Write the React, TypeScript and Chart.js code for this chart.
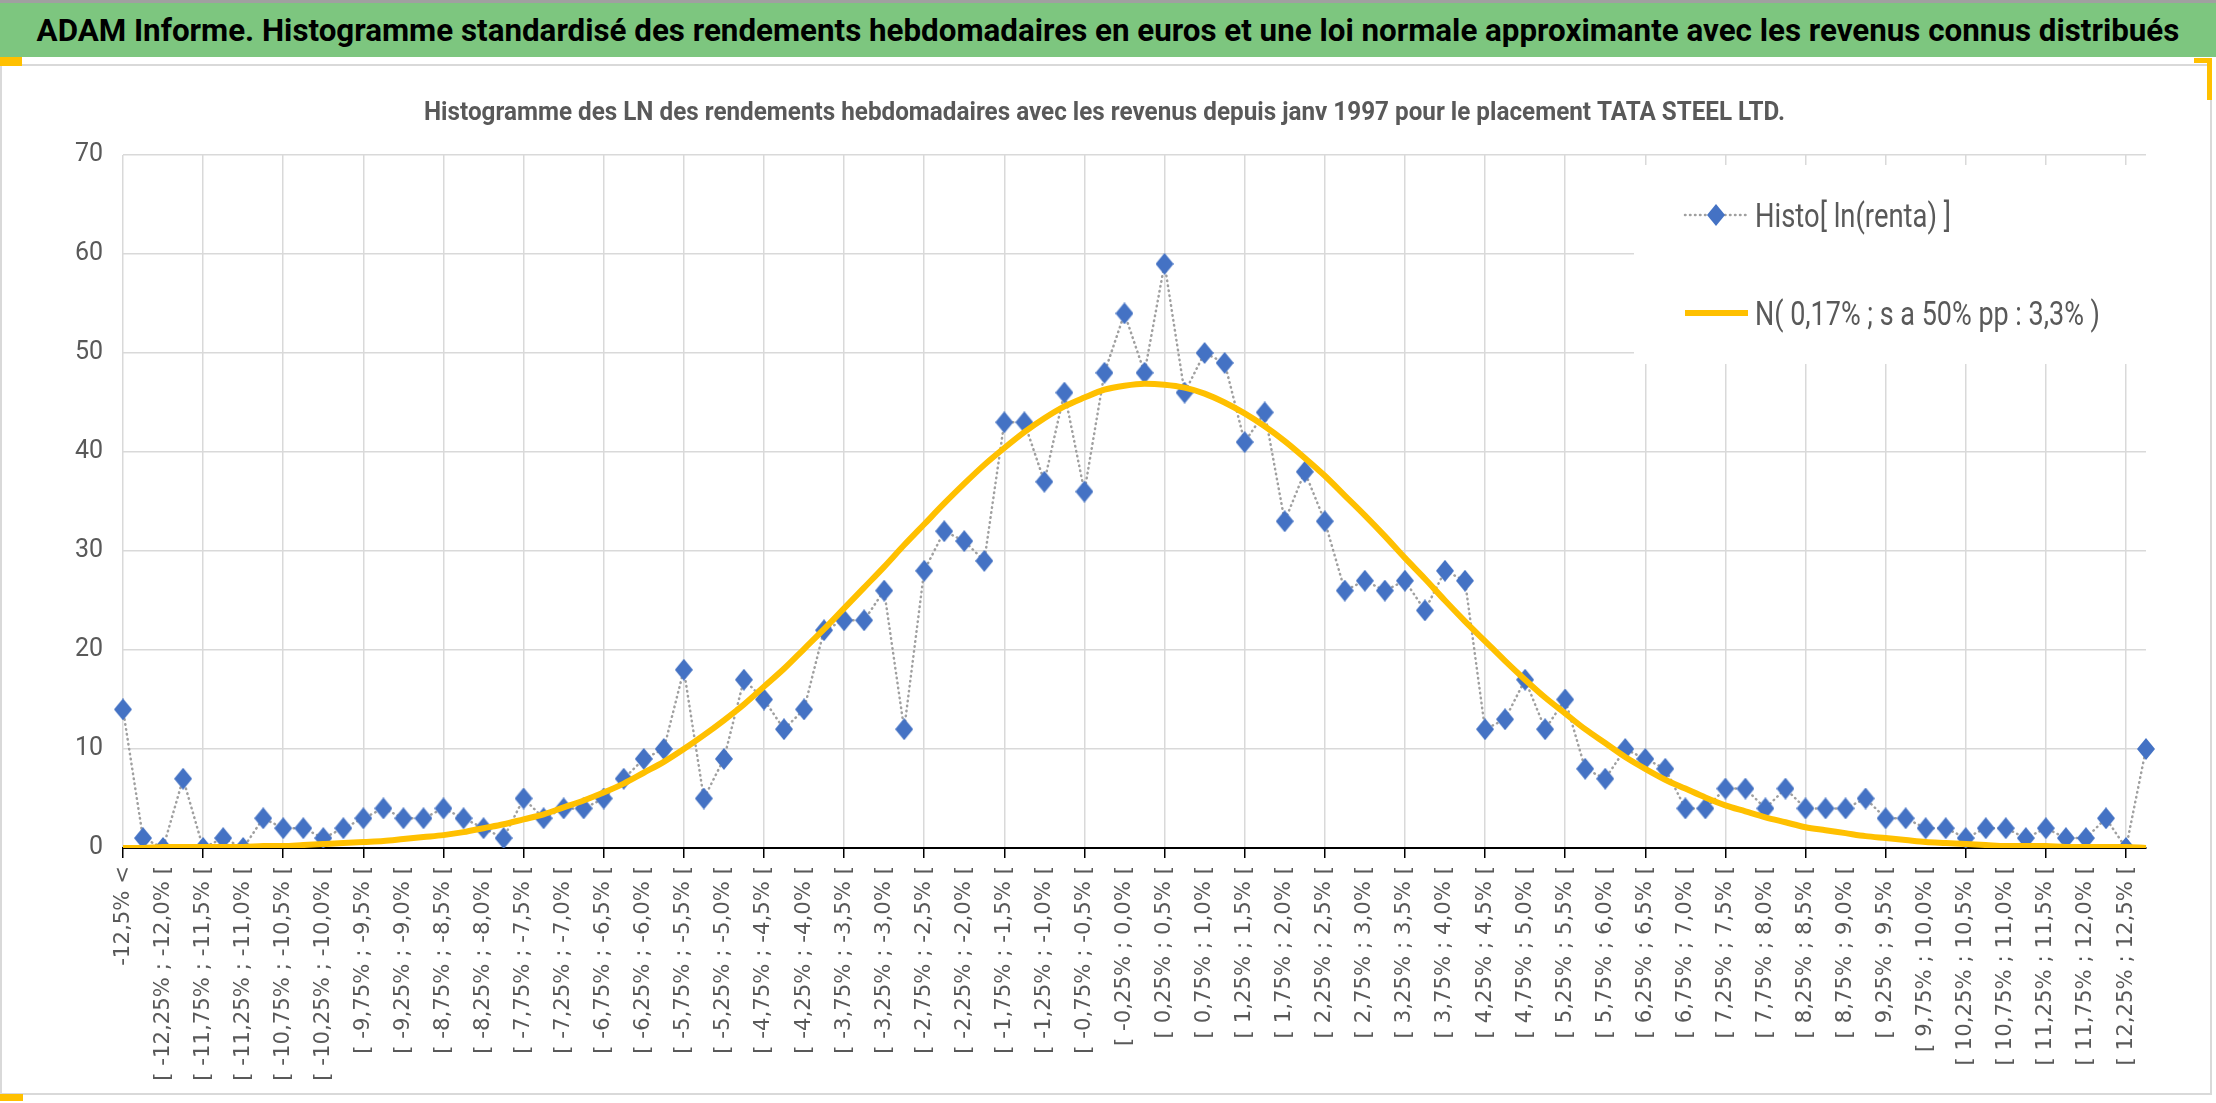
import { useEffect, useMemo, useRef } from 'react'
import { Chart, registerables } from 'chart.js'

Chart.register(...registerables)

const bannerTitle =
  'ADAM Informe. Histogramme standardisé des rendements hebdomadaires en euros et une loi normale approximante avec les revenus connus distribués'
const chartTitle =
  'Histogramme des LN des rendements hebdomadaires avec les revenus depuis janv 1997 pour le placement TATA STEEL LTD.'
const histoLabel = 'Histo[ ln(renta) ]'
const normalLabel = 'N( 0,17% ; s a 50% pp : 3,3% )'

// bin edges as printed on the x axis
const binEdges = [
  '-12,5%', '-12,25%', '-12,0%', '-11,75%', '-11,5%', '-11,25%', '-11,0%', '-10,75%', '-10,5%', '-10,25%',
  '-10,0%', '-9,75%', '-9,5%', '-9,25%', '-9,0%', '-8,75%', '-8,5%', '-8,25%', '-8,0%', '-7,75%',
  '-7,5%', '-7,25%', '-7,0%', '-6,75%', '-6,5%', '-6,25%', '-6,0%', '-5,75%', '-5,5%', '-5,25%',
  '-5,0%', '-4,75%', '-4,5%', '-4,25%', '-4,0%', '-3,75%', '-3,5%', '-3,25%', '-3,0%', '-2,75%',
  '-2,5%', '-2,25%', '-2,0%', '-1,75%', '-1,5%', '-1,25%', '-1,0%', '-0,75%', '-0,5%', '-0,25%',
  '0,0%', '0,25%', '0,5%', '0,75%', '1,0%', '1,25%', '1,5%', '1,75%', '2,0%', '2,25%',
  '2,5%', '2,75%', '3,0%', '3,25%', '3,5%', '3,75%', '4,0%', '4,25%', '4,5%', '4,75%',
  '5,0%', '5,25%', '5,5%', '5,75%', '6,0%', '6,25%', '6,5%', '6,75%', '7,0%', '7,25%',
  '7,5%', '7,75%', '8,0%', '8,25%', '8,5%', '8,75%', '9,0%', '9,25%', '9,5%', '9,75%',
  '10,0%', '10,25%', '10,5%', '10,75%', '11,0%', '11,25%', '11,5%', '11,75%', '12,0%', '12,25%',
  '12,5%',
]
const lowTail = '-12,5% <'
const highTail = '12,5% >'

const categories = [
  lowTail,
  ...binEdges.slice(1).map((edge, i) => `[ ${binEdges[i]} ; ${edge} [`),
  highTail,
]

const histoCounts = [
  14, 1, 0, 7, 0, 1, 0, 3, 2, 2,
  1, 2, 3, 4, 3, 3, 4, 3, 2, 1,
  5, 3, 4, 4, 5, 7, 9, 10, 18, 5,
  9, 17, 15, 12, 14, 22, 23, 23, 26, 12,
  28, 32, 31, 29, 43, 43, 37, 46, 36, 48,
  54, 48, 59, 46, 50, 49, 41, 44, 33, 38,
  33, 26, 27, 26, 27, 24, 28, 27, 12, 13,
  17, 12, 15, 8, 7, 10, 9, 8, 4, 4,
  6, 6, 4, 6, 4, 4, 4, 5, 3, 3,
  2, 2, 1, 2, 2, 1, 2, 1, 1, 3,
  0, 10,
]

const normalCurve = [
  0.0, 0.0, 0.1, 0.1, 0.1, 0.1, 0.1, 0.2, 0.2, 0.3,
  0.4, 0.5, 0.6, 0.7, 0.9, 1.1, 1.3, 1.6, 2.0, 2.4,
  2.9, 3.4, 4.1, 4.8, 5.6, 6.5, 7.6, 8.7, 10.0, 11.4,
  12.9, 14.5, 16.3, 18.1, 20.1, 22.1, 24.2, 26.3, 28.4, 30.6,
  32.7, 34.8, 36.8, 38.7, 40.4, 42.0, 43.4, 44.6, 45.5, 46.3,
  46.7, 46.9, 46.8, 46.5, 45.9, 45.0, 43.9, 42.6, 41.1, 39.4,
  37.6, 35.6, 33.6, 31.5, 29.3, 27.2, 25.0, 22.9, 20.9, 18.9,
  17.0, 15.2, 13.6, 12.0, 10.6, 9.2, 8.0, 6.9, 6.0, 5.1,
  4.3, 3.7, 3.1, 2.6, 2.1, 1.8, 1.5, 1.2, 1.0, 0.8,
  0.6, 0.5, 0.4, 0.3, 0.2, 0.2, 0.2, 0.1, 0.1, 0.1,
  0.1, 0.0,
]

const yMin = 0
const yMax = 70
const yStep = 10

const GREEN = '#7dc67f'
const GRID = '#d9d9d9'
const TEXT = '#595959'
const BLUE = '#4472c4'
const GOLD = '#ffc000'
const DOTS = '#a0a0a0'

const CANVAS_TOP = 66
const CANVAS_H = 1030

function fitFontSize(text: string, weight: string, family: string, width: number) {
  const ctx = document.createElement('canvas').getContext('2d')
  if (!ctx) return 20
  ctx.font = `${weight} 100px ${family}`
  return (100 * width) / ctx.measureText(text).width
}

function makeDiamond(w: number, h: number) {
  const c = document.createElement('canvas')
  c.width = w
  c.height = h
  const ctx = c.getContext('2d')
  if (ctx) {
    ctx.fillStyle = BLUE
    ctx.beginPath()
    ctx.moveTo(w / 2, 0)
    ctx.lineTo(w, h / 2)
    ctx.lineTo(w / 2, h)
    ctx.lineTo(0, h / 2)
    ctx.closePath()
    ctx.fill()
  }
  return c
}

// draw text squeezed horizontally to a given width (Calibri-like proportions)
function fillCondensed(ctx: CanvasRenderingContext2D, text: string, x: number, y: number, width: number) {
  const natural = ctx.measureText(text).width
  ctx.save()
  ctx.translate(x, y)
  ctx.scale(width / natural, 1)
  ctx.fillText(text, 0, 0)
  ctx.restore()
}

function HistoChart() {
  const canvasRef = useRef<HTMLCanvasElement>(null)
  const chartRef = useRef<Chart | null>(null)

  useEffect(() => {
    const canvas = canvasRef.current
    if (!canvas) return

    if (chartRef.current) {
      chartRef.current.destroy()
    }

    const diamond = makeDiamond(18, 22)
    const tickSize = fitFontSize(categories[2], 'normal', '"DejaVu Sans"', 215)

    // subtitle above the plot and legend in a white box at the top right
    const chartText = {
      id: 'chartText',
      beforeDatasetsDraw(chart: Chart) {
        const { ctx, chartArea } = chart
        const r = chartArea.right
        const t = chartArea.top
        const ds = chart.data.datasets
        ctx.save()

        ctx.fillStyle = TEXT
        ctx.font = 'bold 26px Roboto'
        ctx.textBaseline = 'alphabetic'
        ctx.textAlign = 'left'
        fillCondensed(ctx, chartTitle, 424, t - 35, 1361)

        ctx.fillStyle = '#ffffff'
        ctx.fillRect(r - 512, t + 10, 514, 199)

        ctx.strokeStyle = DOTS
        ctx.lineWidth = 2.5
        ctx.lineCap = 'round'
        ctx.setLineDash([0.5, 4.5])
        ctx.beginPath()
        ctx.moveTo(r - 461, t + 60)
        ctx.lineTo(r - 399, t + 60)
        ctx.stroke()
        ctx.setLineDash([])
        ctx.drawImage(diamond, r - 430 - diamond.width / 2, t + 60 - diamond.height / 2)

        ctx.strokeStyle = GOLD
        ctx.lineWidth = 6
        ctx.lineCap = 'butt'
        ctx.beginPath()
        ctx.moveTo(r - 461, t + 158)
        ctx.lineTo(r - 398, t + 158)
        ctx.stroke()

        ctx.fillStyle = TEXT
        ctx.font = '33px Roboto'
        fillCondensed(ctx, String(ds[0].label), r - 391, t + 72, 196)
        fillCondensed(ctx, String(ds[1].label), r - 391, t + 170, 345)
        ctx.restore()
      },
    }

    chartRef.current = new Chart(canvas, {
      type: 'line',
      data: {
        labels: categories,
        datasets: [
          {
            label: histoLabel,
            data: histoCounts,
            borderColor: DOTS,
            borderWidth: 2.5,
            borderDash: [0.5, 4.5],
            borderCapStyle: 'round',
            pointStyle: diamond,
            pointRadius: 10,
            tension: 0,
            order: 2,
          },
          {
            label: normalLabel,
            data: normalCurve,
            borderColor: GOLD,
            borderWidth: 6,
            pointRadius: 0,
            cubicInterpolationMode: 'monotone',
            order: 1,
          },
        ],
      },
      options: {
        responsive: false,
        animation: false,
        devicePixelRatio: 1,
        events: [],
        layout: { padding: { left: 0, right: 70, top: 89, bottom: 0 } },
        plugins: {
          legend: { display: false },
          tooltip: { enabled: false },
          title: { display: false },
        },
        scales: {
          x: {
            grid: {
              color: (c: any) => (c.index % 4 === 0 ? GRID : 'transparent'),
              lineWidth: 1.5,
              tickColor: (c: any) => (c.index % 4 === 0 ? '#000000' : 'transparent'),
              tickLength: 10,
              tickWidth: 1.5,
            },
            border: { color: '#000000', width: 2 },
            ticks: {
              autoSkip: false,
              minRotation: 90,
              maxRotation: 90,
              padding: 8,
              color: TEXT,
              font: { family: '"DejaVu Sans"', size: tickSize },
              // every other bin is labelled; '' keeps the tick (and its grid line)
              callback: (_v: any, i: number) => (i % 2 === 0 ? categories[i] : ''),
            },
            afterFit: (scale: any) => {
              scale.height = CANVAS_H - 782
            },
          },
          y: {
            min: yMin,
            max: yMax,
            ticks: {
              stepSize: yStep,
              padding: 20,
              color: TEXT,
              font: { family: 'Roboto', size: 25 },
            },
            grid: {
              color: (c: any) => (c.tick && c.tick.value === 0 ? 'transparent' : GRID),
              lineWidth: 1.5,
              drawTicks: false,
            },
            border: { display: false },
            afterFit: (scale: any) => {
              scale.width = 123
            },
          },
        },
      },
      plugins: [chartText],
    })

    return () => {
      if (chartRef.current) {
        chartRef.current.destroy()
        chartRef.current = null
      }
    }
  }, [])

  return (
    <canvas
      ref={canvasRef}
      width={2216}
      height={CANVAS_H}
      style={{ position: 'absolute', left: 0, top: CANVAS_TOP, width: 2216, height: CANVAS_H }}
    />
  )
}

export default function App() {
  const bannerSize = useMemo(() => fitFontSize(bannerTitle, 'bold', 'Roboto', 2143), [])

  return (
    <div
      style={{
        position: 'fixed',
        left: 0,
        top: 0,
        width: 2216,
        height: 1103,
        background: '#ffffff',
        overflow: 'hidden',
        fontFamily: 'Roboto, sans-serif',
      }}
    >
      <div
        style={{
          position: 'absolute',
          left: 0,
          top: 0,
          width: 2216,
          height: 57,
          boxSizing: 'border-box',
          borderTop: '3px solid #a0a0a0',
          background: GREEN,
          display: 'flex',
          alignItems: 'center',
          justifyContent: 'center',
          color: '#000000',
          fontWeight: 700,
          fontSize: bannerSize,
          whiteSpace: 'nowrap',
        }}
      >
        {bannerTitle}
      </div>
      <div
        style={{
          position: 'absolute',
          left: 0,
          top: 64,
          width: 2212,
          height: 1031,
          boxSizing: 'border-box',
          border: `2px solid ${GRID}`,
        }}
      />
      <div style={{ position: 'absolute', left: 0, top: 57, width: 22, height: 9, background: GOLD }} />
      <div style={{ position: 'absolute', left: 2194, top: 58, width: 18, height: 5, background: GOLD }} />
      <div style={{ position: 'absolute', left: 2207, top: 58, width: 5, height: 42, background: GOLD }} />
      <div style={{ position: 'absolute', left: 0, top: 1094, width: 23, height: 7, background: GOLD }} />
      <HistoChart />
    </div>
  )
}
